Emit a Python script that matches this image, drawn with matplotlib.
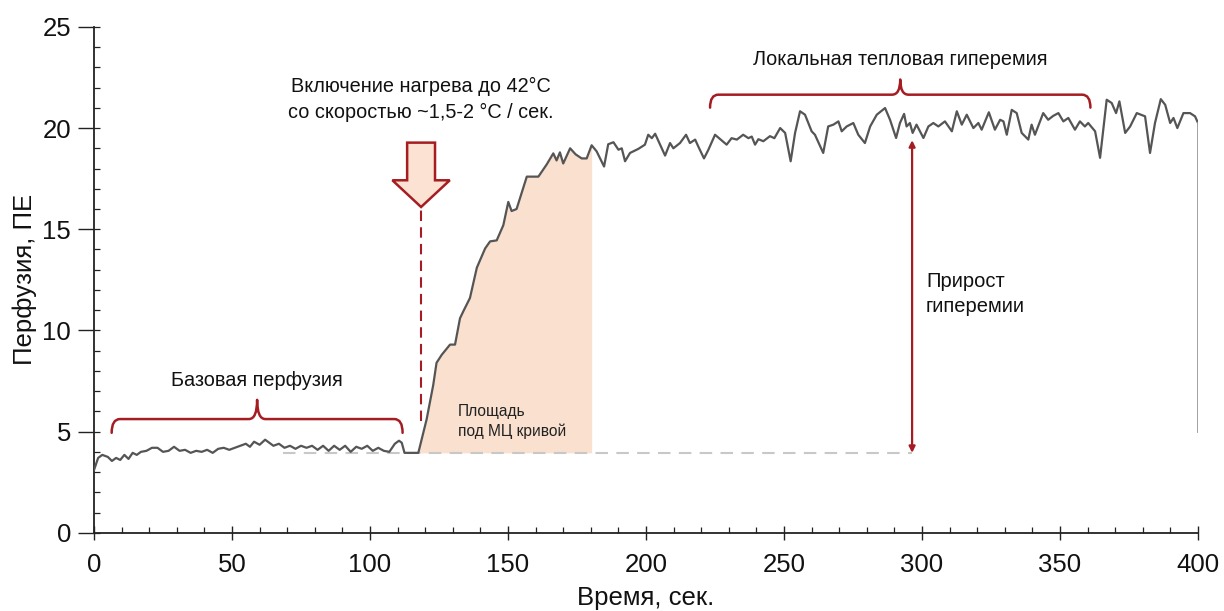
import matplotlib
matplotlib.use("Agg")
import matplotlib.pyplot as plt
import numpy as np
from matplotlib.patches import FancyArrow, PathPatch
from matplotlib.path import Path
from matplotlib.ticker import MultipleLocator

plt.rcParams['font.family'] = ['Liberation Sans', 'DejaVu Sans']

# perfusion trace (time, sec / perfusion units)
time_s = [0, 1.5, 3, 5, 6.5, 8, 9.5, 11, 12.5, 14, 15.5, 17, 19, 21, 23, 25, 27, 29, 31, 33,
          35, 37, 39, 41, 43, 45, 47, 49, 51, 53, 55, 56.5, 58, 60, 62, 63.5, 65, 67, 69, 71,
          73, 75, 77, 79, 81, 83, 85, 87, 89, 91, 93, 95, 97, 99, 101, 103, 105, 107, 109, 110.5,
          111.5, 112.5, 117.5, 120.5, 122.9, 124.1, 126, 129, 130.8, 132.6, 134, 136.2, 138.7, 141.7, 143.5, 145.9,
          148.3, 150.1, 151.3, 153.1, 156.8, 161, 164, 166.4, 167.6, 168.8, 170, 172.5, 174.5, 176.7,
          178.5, 180.3, 182.1, 184.8, 186.3, 188.2, 190, 191.2, 192.4, 194.2, 197.2, 199.6, 200.8, 202.1,
          203.3, 205.1, 206.9, 208.7, 209.9, 212.3, 214.5, 215.9, 217.8, 218.9, 221, 222.6, 225, 229.2,
          231, 232.9, 235.2, 237.1, 238.3, 239.5, 240.7, 242.5, 244.9, 246.5, 248.6, 250.4, 252.4, 254,
          255.8, 257.6, 260, 261.2, 264.2, 266, 267.9, 269.7, 270.9, 272.7, 275.1, 276.9, 279.3, 281.2,
          283.6, 286.6, 288.4, 290.6, 292, 293.5, 294.4, 295.6, 296.6, 298, 300.5, 302.3, 304.1, 305.9,
          308.3, 310.8, 312.6, 314.4, 316.2, 318.6, 320.4, 321.6, 324.2, 326.4, 328.3, 329.5, 330.7, 332.5,
          334.3, 336.1, 338.5, 339.7, 340.9, 343.9, 345.7, 347.5, 349.4, 351.2, 353, 355.4, 357.2, 359,
          360.2, 362.7, 364.5, 366.9, 368.7, 370.3, 371.5, 373.6, 375.4, 377.8, 380.8, 382.6, 384.4, 386.5,
          388.1, 389.9, 391.1, 392.5, 394.7, 397.1, 398.9, 400]
perf_pu = [3.1, 3.7, 3.85, 3.75, 3.55, 3.7, 3.6, 3.85, 3.65, 3.95, 3.85, 4.0, 4.05, 4.2, 4.2, 4.0, 4.05, 4.25, 4.05, 4.1,
           3.95, 4.05, 4.0, 4.1, 3.95, 4.15, 4.2, 4.1, 4.2, 4.3, 4.4, 4.25, 4.5, 4.35, 4.6, 4.45, 4.3, 4.4, 4.2, 4.3,
           4.15, 4.3, 4.2, 4.3, 4.1, 4.3, 4.05, 4.3, 4.1, 4.3, 4.0, 4.25, 4.15, 4.3, 4.05, 4.2, 4.05, 4.0, 4.4, 4.55,
           4.45, 3.95, 3.95, 5.6, 7.3, 8.4, 8.8, 9.3, 9.3, 10.6, 11.0, 11.6, 13.1, 14.05, 14.4, 14.45,
           15.2, 16.35, 15.9, 16.0, 17.6, 17.6, 18.2, 18.75, 18.4, 18.8, 18.25, 19.0, 18.7, 18.5,
           18.5, 19.15, 18.85, 18.1, 19.2, 19.3, 18.93, 19.0, 18.36, 18.77, 18.97, 19.18, 19.67, 19.5,
           19.72, 19.18, 18.64, 19.26, 19.0, 19.26, 19.67, 19.26, 19.43, 19.1, 18.5, 18.93, 19.67, 19.18,
           19.5, 19.43, 19.67, 19.5, 19.58, 19.18, 19.45, 19.35, 19.6, 19.5, 20.0, 19.76, 18.36, 19.76,
           20.83, 20.66, 19.84, 19.67, 18.77, 20.08, 20.17, 20.33, 19.84, 20.08, 20.25, 19.67, 19.26, 20.08,
           20.66, 20.99, 20.41, 19.51, 20.25, 20.7, 20.08, 20.25, 19.76, 20.17, 19.51, 20.08, 20.25, 20.08,
           20.33, 19.84, 20.83, 20.17, 20.66, 20.0, 20.25, 19.92, 20.78, 19.92, 20.41, 20.33, 19.67, 20.9,
           20.74, 19.76, 19.43, 20.17, 19.67, 20.74, 20.41, 20.6, 20.74, 20.33, 20.5, 19.92, 20.33, 20.08,
           20.25, 19.84, 18.53, 21.4, 21.24, 20.74, 21.32, 19.76, 20.08, 20.74, 20.58, 18.77, 20.25, 21.43,
           21.15, 20.25, 20.5, 20.0, 20.74, 20.74, 20.58, 20.25]
drop_end = 5.0          # the trace falls to this at 400 s
baseline = 3.95         # baseline perfusion
heat_on = 118.5         # heating switched on
area_end = 181          # right edge of the area under the curve
gain_x = 296.4          # where the hyperemia gain arrow sits
gain_top = 19.4

RED = '#a51d22'
PEACH = '#f9e0cf'
LINE = '#555555'
TXT = '#111111'


def brace(ax, x0, x1, y, end_dy, mid_dy, r):
    xm = (x0 + x1) / 2
    verts = [(x0, y - end_dy), (x0, y), (x0 + r, y),
             (xm - r, y), (xm, y), (xm, y + mid_dy),
             (xm, y), (xm + r, y),
             (x1 - r, y), (x1, y), (x1, y - end_dy)]
    codes = [Path.MOVETO, Path.CURVE3, Path.CURVE3,
             Path.LINETO, Path.CURVE3, Path.CURVE3,
             Path.CURVE3, Path.CURVE3,
             Path.LINETO, Path.CURVE3, Path.CURVE3]
    ax.add_patch(PathPatch(Path(verts, codes), fc='none', ec=RED, lw=1.8,
                           capstyle='round', joinstyle='round'))


fig = plt.figure(figsize=(12.24, 6.11), dpi=100)
ax = fig.add_axes([0.0768, 0.128, 0.902, 0.828])

t = np.array(time_s)
p = np.array(perf_pu)

# area under the curve
m = (t >= 117.5) & (t <= area_end)
ax.fill_between(t[m], baseline, p[m], color=PEACH, lw=0, zorder=1)

# baseline level
ax.plot([68.5, gain_x], [baseline, baseline], color='#c8c8c8', lw=1.5,
        dashes=(6, 4), zorder=2)

ax.plot(t, p, color=LINE, lw=1.6, zorder=3)
ax.plot([t[-1], t[-1]], [p[-1], drop_end], color='#9a9a9a', lw=1.3, zorder=3)

# heating on marker
ax.plot([heat_on, heat_on], [5.5, 16.0], color=RED, lw=1.5, dashes=(5, 3), zorder=2)
ax.add_patch(FancyArrow(heat_on, 19.28, 0, -3.18, width=10.1, head_width=20.8,
                        head_length=1.32, length_includes_head=True,
                        fc='#fbe2d2', ec=RED, lw=1.8, zorder=4))
ax.text(heat_on, 21.43, 'Включение нагрева до 42°C\nсо скоростью ~1,5-2 °C / сек.',
        ha='center', va='center', fontsize=14.3, linespacing=1.45, color=TXT)

# hyperemia gain
ax.annotate('', xy=(gain_x, gain_top), xytext=(gain_x, baseline),
            arrowprops=dict(arrowstyle='<|-|>', color=RED, lw=1.6,
                            mutation_scale=9, shrinkA=0, shrinkB=0))
ax.text(301.4, 11.8, 'Прирост\nгиперемии', ha='left', va='center',
        fontsize=14.5, linespacing=1.45, color=TXT)

ax.text(131.9, 5.5, 'Площадь\nпод МЦ кривой', ha='left', va='center',
        fontsize=11.2, linespacing=1.35, color='#222222')

brace(ax, 6.4, 111.8, 5.62, 0.68, 0.95, 3.0)
ax.text(59.1, 7.55, 'Базовая перфузия', ha='center', va='center',
        fontsize=14.3, color=TXT)

brace(ax, 223.2, 361.0, 21.65, 0.64, 0.75, 3.0)
ax.text(292.1, 23.4, 'Локальная тепловая гиперемия', ha='center', va='center',
        fontsize=14.3, color=TXT)

ax.set_xlim(0, 400)
ax.set_ylim(0, 25)
ax.xaxis.set_major_locator(MultipleLocator(50))
ax.xaxis.set_minor_locator(MultipleLocator(10))
ax.yaxis.set_major_locator(MultipleLocator(5))
ax.yaxis.set_minor_locator(MultipleLocator(1))
ax.yaxis.remove_overlapping_locs = False
ax.tick_params(axis='x', which='major', direction='inout', length=9.6, width=1,
               labelsize=18.5, colors='#222222', labelcolor=TXT, pad=10)
ax.tick_params(axis='y', which='major', direction='out', length=11.5, width=1,
               labelsize=18.5, colors='#222222', labelcolor=TXT, pad=5)
ax.tick_params(which='minor', direction='in', length=4.5, width=0.9, colors='#222222')
for s in ['top', 'right']:
    ax.spines[s].set_visible(False)
for s in ['left', 'bottom']:
    ax.spines[s].set_linewidth(1.3)
    ax.spines[s].set_color('#222222')
ax.set_xlabel('Время, сек.', fontsize=18.5, labelpad=6, color=TXT)
ax.set_ylabel('Перфузия, ПЕ', fontsize=18.5, labelpad=4, color=TXT)

fig.savefig('out.png', dpi=100)
